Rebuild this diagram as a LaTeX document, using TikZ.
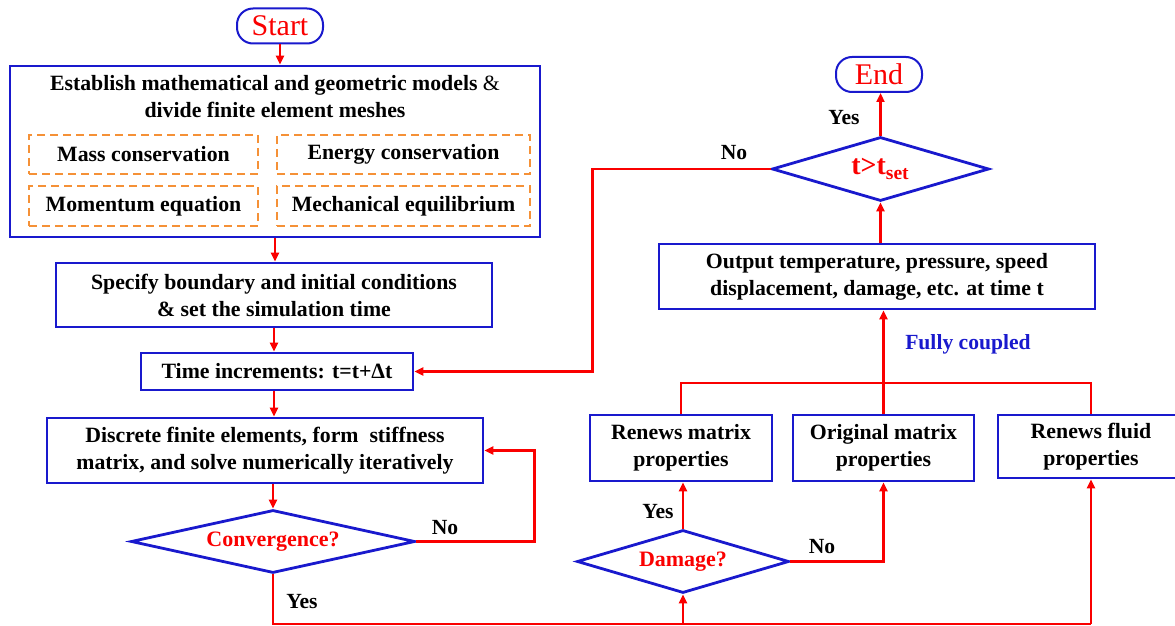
\documentclass[tikz,border=0pt]{standalone}
\usepackage{fontspec}
\setmainfont{Liberation Serif}
\usetikzlibrary{arrows.meta}
\usetikzlibrary{shapes.geometric}
\usetikzlibrary{calc}
\tikzset{>={Triangle[length=4.5pt,width=4pt]}}
\definecolor{flowblue}{RGB}{25,25,205}
\definecolor{flowred}{RGB}{250,0,0}
\definecolor{eqorange}{RGB}{245,145,55}
\tikzset{
  stepbox/.style={draw=flowblue, line width=1.4pt, align=center, inner sep=0pt,
    font=\fontsize{10.9}{13.5}\selectfont\bfseries},
  eqbox/.style={draw=eqorange, line width=1.2pt, dash pattern=on 4pt off 2.5pt,
    inner sep=0pt, font=\fontsize{10.9}{13.5}\selectfont\bfseries},
  decide/.style={diamond, aspect=4, draw=flowblue, line width=1.4pt, inner sep=0pt,
    text=flowred, font=\fontsize{11}{13}\selectfont\bfseries},
  term/.style={draw=flowblue, line width=1pt, rounded corners=8pt, inner sep=0pt,
    text=flowred, font=\fontsize{15}{15}\selectfont},
  flow/.style={draw=flowred, line width=1.2pt},
  answer/.style={font=\fontsize{10.8}{12}\selectfont\bfseries},
}

\begin{document}
\begin{tikzpicture}[x=0.5pt, y=-0.5pt]
      \useasboundingbox (0,0) rectangle (1175,626);
      % left column
      \node[term, minimum width=43pt, minimum height=17.5pt] (start) at (280,26) {Start};
      \node[stepbox, minimum width=265pt, minimum height=85.5pt] (model) at (275,151.5) {};
      \node[stepbox, draw=none] (modeltitle) at (275,97)
        {Establish mathematical and geometric models {\mdseries\&}\\divide finite element meshes};
      \node[eqbox, minimum width=114.5pt, minimum height=19.5pt] (mass) at (143.5,154.5) {Mass conservation};
      \node[eqbox, minimum width=126.5pt, minimum height=19.5pt] (energy) at (403.5,154.5) {Energy conservation};
      \node[eqbox, minimum width=114.5pt, minimum height=20pt] (momentum) at (143.5,206) {Momentum equation};
      \node[eqbox, minimum width=126.5pt, minimum height=20pt] (mech) at (403.5,206) {Mechanical equilibrium};
      \node[stepbox, minimum width=218pt, minimum height=32pt] (bound) at (274,295)
        {Specify boundary and initial conditions\\\& set the simulation time};
      \node[stepbox, minimum width=136pt, minimum height=18.5pt] (timeinc) at (277,371.5) {Time increments: t=t+Δt};
      \node[stepbox, minimum width=218pt, minimum height=32.5pt] (discrete) at (265,450.5)
        {Discrete finite elements, form\ \ stiffness\\matrix, and solve numerically iteratively};
      \node[decide, minimum width=142pt, minimum height=31.5pt] (conv) at (273,541.5) {Convergence?};
      % right column
      \node[term, minimum width=43pt, minimum height=17.5pt] (finish) at (879,74.5) {End};
      \node[decide, minimum width=108.5pt, minimum height=32pt, font=\fontsize{14}{14}\selectfont\bfseries]
        (tset) at (880.5,169) {t>t\textsubscript{set}};
      \node[stepbox, minimum width=218pt, minimum height=32.5pt] (output) at (877,276.5)
        {Output temperature, pressure, speed\\displacement, damage, etc. at time t};
      \node[stepbox, minimum width=91pt, minimum height=33pt] (rmat) at (681,448) {Renews matrix\\properties};
      \node[stepbox, minimum width=90.5pt, minimum height=33pt] (omat) at (883.5,448) {Original matrix\\properties};
      \node[stepbox, minimum width=93pt, minimum height=31.5pt] (fluid) at (1091,446.5) {Renews fluid\\properties};
      \node[decide, minimum width=106pt, minimum height=31.5pt] (damage) at (683,561.5) {Damage?};
      \node[answer, text=flowblue] (coupled) at (968,344) {Fully coupled};
      \coordinate (bus) at (1091,624);
      \coordinate (join) at (881,383);
      % arrows
      \draw[flow,->] (start.south) -- (start.south |- model.north);
      \draw[flow,->] (model.south) -- (model.south |- bound.north);
      \draw[flow,->] (bound.south) -- (bound.south |- timeinc.north);
      \draw[flow,->] (bound.south |- timeinc.south) -- (bound.south |- discrete.north);
      \draw[flow,->] (conv.north |- discrete.south) -- (conv.north);
      \draw[flow,->] (conv.east) -- ++(118,0) |- (discrete.east);
      \draw[flow] (conv.south) |- (bus);
      \draw[flow,->] (bus) -- (fluid.south);
      \draw[flow,->] (damage.south |- bus) -- (damage.south);
      \draw[flow,->] (damage.north) -- (damage.north |- rmat.south);
      \draw[flow,->] (damage.east) -| (omat.south);
      \draw[flow] (rmat.north) |- (join) -| (fluid.north);
      \draw[flow,->] (omat.north) -- (omat.north |- output.south);
      \draw[flow,->] (tset.south |- output.north) -- (tset.south);
      \draw[flow,->] (tset.north) -- (tset.north |- finish.south);
      \draw[flow,->] (tset.west) -| ($(timeinc.east)+(178,0)$) -- (timeinc.east);
      % labels
      \node[answer] (convno) at (445,528) {No};
      \node[answer] (convyes) at (302,602) {Yes};
      \node[answer] (damyes) at (658,512) {Yes};
      \node[answer] (damno) at (822,547) {No};
      \node[answer] (tsetyes) at (844,118) {Yes};
      \node[answer] (tsetno) at (734,153) {No};
\end{tikzpicture}
\end{document}
